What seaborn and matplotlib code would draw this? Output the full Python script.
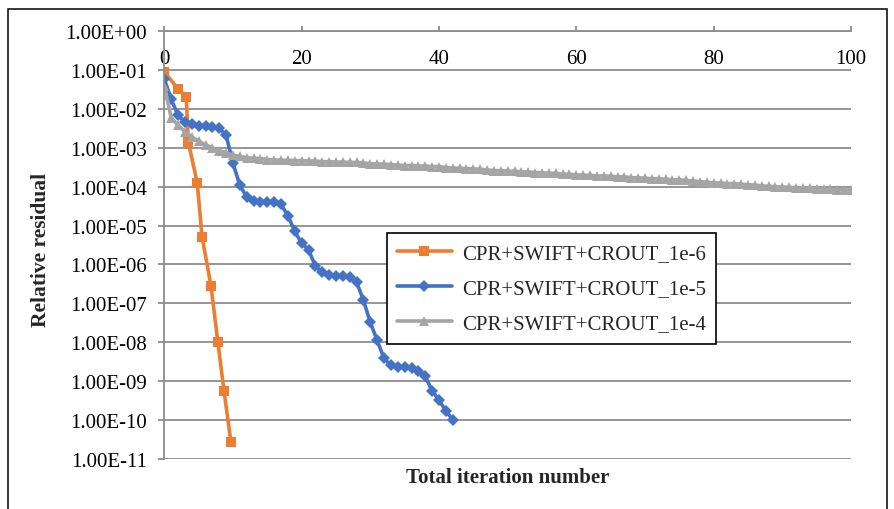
import matplotlib
matplotlib.use("Agg")
import matplotlib.pyplot as plt
import seaborn as sns
from matplotlib.ticker import FixedLocator, FuncFormatter, NullLocator
from matplotlib.patches import Rectangle

# ---------------- data ----------------
labels = ["CPR+SWIFT+CROUT_1e-6", "CPR+SWIFT+CROUT_1e-5", "CPR+SWIFT+CROUT_1e-4"]

orange_iter = [0, 2.0, 3.2, 3.5, 4.8, 5.5, 6.8, 7.8, 8.7, 9.7]
orange_res = [9.0e-2, 3.3e-2, 2.0e-2, 1.4e-3, 1.25e-4, 5.1e-6, 2.8e-7, 1.0e-8, 5.5e-10, 2.7e-11]

blue_iter = list(range(43))
blue_res = [5.9e-2, 1.8e-2, 6.8e-3, 4.7e-3, 4.0e-3, 3.7e-3, 3.7e-3, 3.5e-3, 3.2e-3, 2.1e-3,
            4.0e-4, 1.1e-4, 5.4e-5, 4.2e-5, 4.0e-5, 4.0e-5, 4.0e-5, 3.5e-5, 1.8e-5, 7.1e-6,
            3.5e-6, 2.4e-6, 8.9e-7, 6.3e-7, 5.4e-7, 5.1e-7, 5.0e-7, 4.7e-7, 3.5e-7, 1.2e-7,
            3.2e-8, 1.1e-8, 3.8e-9, 2.5e-9, 2.3e-9, 2.3e-9, 2.2e-9, 1.8e-9, 1.3e-9, 5.6e-10,
            3.2e-10, 1.7e-10, 1.0e-10]

gray_iter = list(range(101))
gray_res = [4.0e-2, 6.0e-3, 3.8e-3, 2.6e-3, 1.9e-3, 1.5e-3, 1.2e-3, 1.0e-3, 8.5e-4, 7.5e-4,
            6.5e-4, 6.0e-4, 5.6e-4, 5.4e-4, 5.3e-4, 5.0e-4, 4.9e-4, 4.8e-4, 4.8e-4, 4.7e-4,
            4.7e-4, 4.6e-4, 4.6e-4, 4.4e-4, 4.4e-4, 4.3e-4, 4.3e-4, 4.2e-4, 4.2e-4, 4.1e-4,
            3.9e-4, 3.8e-4, 3.8e-4, 3.7e-4, 3.6e-4, 3.5e-4, 3.5e-4, 3.4e-4, 3.4e-4, 3.3e-4,
            3.3e-4, 3.1e-4, 3.0e-4, 3.0e-4, 2.9e-4, 2.9e-4, 2.8e-4, 2.7e-4, 2.6e-4, 2.6e-4,
            2.5e-4, 2.5e-4, 2.4e-4, 2.4e-4, 2.3e-4, 2.3e-4, 2.2e-4, 2.2e-4, 2.1e-4, 2.1e-4,
            2.0e-4, 2.0e-4, 1.95e-4, 1.9e-4, 1.9e-4, 1.85e-4, 1.8e-4, 1.8e-4, 1.7e-4, 1.7e-4,
            1.65e-4, 1.6e-4, 1.6e-4, 1.55e-4, 1.5e-4, 1.5e-4, 1.45e-4, 1.4e-4, 1.35e-4, 1.3e-4,
            1.25e-4, 1.25e-4, 1.2e-4, 1.2e-4, 1.15e-4, 1.12e-4, 1.1e-4, 1.05e-4, 1.02e-4, 1.0e-4,
            9.8e-5, 9.6e-5, 9.4e-5, 9.2e-5, 9.0e-5, 8.8e-5, 8.6e-5, 8.5e-5, 8.4e-5, 8.3e-5, 8.2e-5]

x_ticks = [0, 20, 40, 60, 80, 100]
y_ticks = [1e0, 1e-1, 1e-2, 1e-3, 1e-4, 1e-5, 1e-6, 1e-7, 1e-8, 1e-9, 1e-10, 1e-11]

# ---------------- style ----------------
sns.set_style("white")
plt.rcParams["font.family"] = ["Liberation Serif", "DejaVu Serif"]

W, H = 895, 510
fig = plt.figure(figsize=(W / 100, H / 100), dpi=100)
x0, x1, ytop, ybot = 164.3, 851.0, 32.3, 459.6
ax = fig.add_axes([x0 / W, 1 - ybot / H, (x1 - x0) / W, (ybot - ytop) / H])

grid_col = "#8C8C8C"
series = [
    (orange_iter, orange_res, "#ED7D31", "s", 7.5, labels[0]),
    (blue_iter, blue_res, "#4472C4", "D", 6.0, labels[1]),
    (gray_iter, gray_res, "#A5A5A5", "^", 7.5, labels[2]),
]
for xs, ys, col, mk, ms, lab in series:
    sns.lineplot(x=xs, y=ys, ax=ax, color=col, marker=mk, markersize=ms,
                 markeredgewidth=0, linewidth=2.6, label=lab, sort=False,
                 estimator=None)

ax.set_yscale("log")
ax.set_xlim(0, 100)
ax.set_ylim(1e-11, 1e0)

ax.yaxis.set_major_locator(FixedLocator(y_ticks))
ax.yaxis.set_minor_locator(NullLocator())
ax.yaxis.set_major_formatter(FuncFormatter(lambda v, p: f"{v:.2E}"))
ax.xaxis.set_major_locator(FixedLocator(x_ticks))

ax.yaxis.grid(True, color=grid_col, linewidth=1.3)
ax.xaxis.grid(False)

for s in ["right", "bottom"]:
    ax.spines[s].set_visible(False)
for s in ["left", "top"]:
    ax.spines[s].set_color(grid_col)
    ax.spines[s].set_linewidth(1.3)

ax.tick_params(axis="y", which="major", left=True, direction="out", length=4.5,
               width=1.3, color=grid_col, labelsize=15, pad=8, labelcolor="black")
ax.tick_params(axis="x", which="major", top=True, bottom=False, labeltop=True,
               labelbottom=False, direction="out", length=3.6, width=1.3,
               color=grid_col, labelsize=15, pad=-30, labelcolor="black")

ax.set_xlabel("Total iteration number", fontsize=15, fontweight="bold")
ax.xaxis.set_label_position("bottom")
ax.xaxis.set_label_coords(0.5, -0.02)
ax.set_ylabel("Relative residual", fontsize=15.5, fontweight="bold")
ax.yaxis.set_label_coords((51 - x0) / (x1 - x0), 0.49)

handles, labs = ax.get_legend_handles_labels()
leg = ax.legend(handles, labs, loc="upper left",
                bbox_to_anchor=(387 / W, 1 - 234 / H), bbox_transform=fig.transFigure,
                frameon=True, fancybox=False, edgecolor="black", framealpha=1,
                borderpad=0.5, labelspacing=0.75, handlelength=2.6,
                handletextpad=0.5, borderaxespad=0, fontsize=15)
leg.get_frame().set_linewidth(1.2)

fig.patches.append(Rectangle((8 / W, -0.02), (887 - 8) / W, 1 - 10 / H + 0.02,
                             transform=fig.transFigure, fill=False,
                             edgecolor="black", linewidth=1.1))

fig.savefig("out.png", dpi=100)
